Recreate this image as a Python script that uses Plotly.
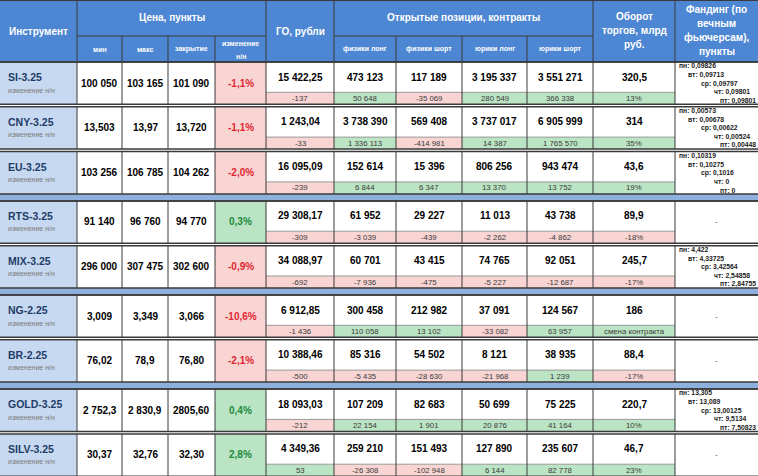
import plotly.graph_objects as go

# ---------------- data ----------------
instruments = ["SI-3.25", "CNY-3.25", "EU-3.25", "RTS-3.25", "MIX-3.25",
               "NG-2.25", "BR-2.25", "GOLD-3.25", "SILV-3.25"]
price_min = ["100 050", "13,503", "103 256", "91 140", "296 000", "3,009", "76,02", "2 752,3", "30,37"]
price_max = ["103 165", "13,97", "106 785", "96 760", "307 475", "3,349", "78,9", "2 830,9", "32,76"]
price_close = ["101 090", "13,720", "104 262", "94 770", "302 600", "3,066", "76,80", "2805,60", "32,30"]
week_change = ["-1,1%", "-1,1%", "-2,0%", "0,3%", "-0,9%", "-10,6%", "-2,1%", "0,4%", "2,8%"]

margin = ["15 422,25", "1 243,04", "16 095,09", "29 308,17", "34 088,97", "6 912,85", "10 388,46", "18 093,03", "4 349,36"]
margin_chg = ["-137", "-33", "-239", "-309", "-692", "-1 436", "-500", "-212", "53"]

phys_long = ["473 123", "3 738 390", "152 614", "61 952", "60 701", "300 458", "85 316", "107 209", "259 210"]
phys_long_chg = ["50 648", "1 336 113", "6 844", "-3 039", "-7 936", "110 058", "-5 435", "22 154", "-26 308"]
phys_short = ["117 189", "569 408", "15 396", "29 227", "43 415", "212 982", "54 502", "82 683", "151 493"]
phys_short_chg = ["-35 069", "-414 981", "6 347", "-439", "-475", "13 102", "-28 630", "1 901", "-102 948"]
legal_long = ["3 195 337", "3 737 017", "806 256", "11 013", "74 765", "37 091", "8 121", "50 699", "127 890"]
legal_long_chg = ["280 549", "14 387", "13 370", "-2 262", "-5 227", "-33 082", "-21 968", "20 876", "6 144"]
legal_short = ["3 551 271", "6 905 999", "943 474", "43 738", "92 051", "124 567", "38 935", "75 225", "235 607"]
legal_short_chg = ["366 338", "1 765 570", "13 752", "-4 862", "-12 687", "63 957", "1 239", "41 164", "82 778"]
turnover = ["320,5", "314", "43,6", "89,9", "245,7", "186", "88,4", "220,7", "46,7"]
turnover_chg = ["13%", "35%", "19%", "-18%", "-17%", "смена контракта", "-17%", "10%", "23%"]

funding_days = ["пн", "вт", "ср", "чт", "пт"]
funding = [
    ["0,09826", "0,09713", "0,09797", "0,09801", "0,09801"],
    ["0,00573", "0,00678", "0,00622", "0,00524", "0,00448"],
    ["0,10319", "0,10275", "0,1016", "0", "0"],
    None,
    ["4,422", "4,33725", "3,42564", "2,54858", "2,84755"],
    None,
    None,
    ["13,305", "13,089", "13,00125", "9,5134", "7,50823"],
    None,
]
# separator after each row: "double" line or blue "band"
separators = ["double", "double", "band", "double", "band", "double", "band", "double", None]

header_top = ["Инструмент", "Цена, пункты", "ГО, рубли", "Открытые позиции, контракты",
              "Оборот<br>торгов, млрд<br>руб.", "Фандинг (по<br>вечным<br>фьючерсам),<br>пункты"]
price_sub = ["мин", "макс", "закрытие", "изменение<br>н/н"]
oi_sub = ["физики лонг", "физики шорт", "юрики лонг", "юрики шорт"]

# ---------------- layout / style ----------------
W, H = 758, 476
col_w = [77, 45, 46, 47, 51, 68, 62, 66, 65, 66, 82, 83]
edges = [0]
for w in col_w:
    edges.append(edges[-1] + w)
HEAD_H, HEAD_SPLIT = 62, 36
ROW_H, SUB_H = 42.3, 12
GAP = {"double": 2.5, "band": 7, None: 0}

FONT = "Liberation Sans, Arial, sans-serif"
HEADER_BG = "#4d86d2"
INSTR_BG = "#c7d9f0"
BAND_BG = "#8eb0dd"
PINK = "#f8d4d3"
GREEN = "#bae4c3"
LINE = "#3a3a3a"
RED_TXT = "#e0262f"
GREEN_TXT = "#208a3c"
NAME_TXT = "#1f3d68"

shapes = []
annotations = []


def rect(x0, y0, x1, y1, fill, line_color=None, lw=0):
    shapes.append(dict(type="rect", xref="x", yref="y", x0=x0, y0=y0, x1=x1, y1=y1,
                       fillcolor=fill, line=dict(color=line_color or fill, width=lw), layer="below"))


def line(x0, y0, x1, y1, color=LINE, w=1):
    shapes.append(dict(type="line", xref="x", yref="y", x0=x0, y0=y0, x1=x1, y1=y1,
                       line=dict(color=color, width=w), layer="above"))


def text(x, y, s, size=10, color="black", bold=False, xanchor="center"):
    annotations.append(dict(x=x, y=y, xref="x", yref="y", text=(f"<b>{s}</b>" if bold else s),
                            showarrow=False, xanchor=xanchor, yanchor="middle",
                            font=dict(family=FONT, size=size, color=color)))


def cx(i):
    return (edges[i] + edges[i + 1]) / 2


def sign_fill(s):
    return PINK if s.startswith("-") else GREEN


# ---------------- header ----------------
rect(0, 0, W, HEAD_H, HEADER_BG)
line(0, 0.5, W, 0.5)
line(edges[1], HEAD_SPLIT, edges[5], HEAD_SPLIT)
line(edges[6], HEAD_SPLIT, edges[10], HEAD_SPLIT)
for i in [1, 5, 6, 10, 11]:
    line(edges[i], 0, edges[i], HEAD_H)
for i in [2, 3, 4, 7, 8, 9]:
    line(edges[i], HEAD_SPLIT, edges[i], HEAD_H)
line(0, HEAD_H, W, HEAD_H, w=1.5)

text(cx(0), 31, header_top[0], 10, "white", True)
text((edges[1] + edges[5]) / 2, 17, header_top[1], 10, "white", True)
text(cx(5), 31, header_top[2], 10, "white", True)
text((edges[6] + edges[10]) / 2, 17, header_top[3], 10, "white", True)
for k, s in enumerate(header_top[4].split("<br>")):
    text(cx(10), 16 + 14 * k, s, 10, "white", True)
for k, s in enumerate(header_top[5].split("<br>")):
    text(cx(11), 9 + 14.3 * k, s, 10, "white", True)
for j, s in enumerate(price_sub):
    parts = s.split("<br>")
    if len(parts) == 1:
        text(cx(1 + j), 49, s, 7, "white", True)
    else:
        text(cx(1 + j), 43, parts[0], 7, "white", True)
        text(cx(1 + j), 56, parts[1], 7, "white", True)
for j, s in enumerate(oi_sub):
    text(cx(6 + j), 49, s, 7, "white", True)

# ---------------- body ----------------
y = HEAD_H
for r, name in enumerate(instruments):
    t, b = y, y + ROW_H
    sub_t = b - SUB_H
    # backgrounds
    rect(edges[0], t, edges[1], b, INSTR_BG)
    rect(edges[1], t, W, b, "white")
    chg = week_change[r]
    rect(edges[4], t, edges[5], b, sign_fill(chg))
    subs = [margin_chg[r], phys_long_chg[r], phys_short_chg[r], legal_long_chg[r],
            legal_short_chg[r], turnover_chg[r]]
    mains = [margin[r], phys_long[r], phys_short[r], legal_long[r], legal_short[r], turnover[r]]
    for j, s in enumerate(subs):
        rect(edges[5 + j], sub_t, edges[6 + j], b, sign_fill(s))
    # grid
    line(edges[5], sub_t, edges[11], sub_t, "#9a9a9a", 1)
    for i in range(1, 12):
        line(edges[i], t, edges[i], b)
    line(0, t, W, t, w=1.5)
    line(0, b, W, b, w=1.5)
    # texts
    text(6, t + 15, name, 10.5, NAME_TXT, True, "left")
    text(6, t + 28, "изменение н/н", 7, "#7a7a7a", False, "left")
    for j, s in enumerate([price_min[r], price_max[r], price_close[r]]):
        text(cx(1 + j), t + 21, s, 10, "black", True)
    text(cx(4), t + 21, chg, 10, RED_TXT if chg.startswith("-") else GREEN_TXT, True)
    for j, s in enumerate(mains):
        text(cx(5 + j), t + 15, s, 10, "black", True)
    for j, s in enumerate(subs):
        text(cx(5 + j), b - SUB_H / 2, s, 7.8, "#3a3a3a")
    fvals = funding[r]
    if fvals is None:
        text(cx(11), t + 21, "-", 8, "#555")
    else:
        offs = [4, 13, 21.5, 30, 38.5]
        indent = [2, 11, 24, 37, 43]
        for k, v in enumerate(fvals):
            text(edges[11] + indent[k], t + offs[k], f"{funding_days[k]}: {v}", 6.8, "#222", True, "left")
    y = b
    sep = separators[r]
    if sep == "band":
        rect(0, y, W, y + GAP[sep], BAND_BG)
        line(0, y + GAP[sep], W, y + GAP[sep], w=1.5)
    y += GAP[sep]

fig = go.Figure(go.Scatter(x=[0], y=[0], mode="markers", marker=dict(opacity=0),
                           hoverinfo="skip", showlegend=False))
fig.update_layout(
    width=W, height=H, margin=dict(l=0, r=0, t=0, b=0),
    paper_bgcolor="white", plot_bgcolor="white",
    xaxis=dict(range=[0, W], visible=False, fixedrange=True),
    yaxis=dict(range=[H, 0], visible=False, fixedrange=True),
    shapes=shapes, annotations=annotations, showlegend=False,
)
fig.write_html("out.html", config={"displayModeBar": False},
               post_script="document.body.style.margin='0';document.body.style.overflow='hidden';")
